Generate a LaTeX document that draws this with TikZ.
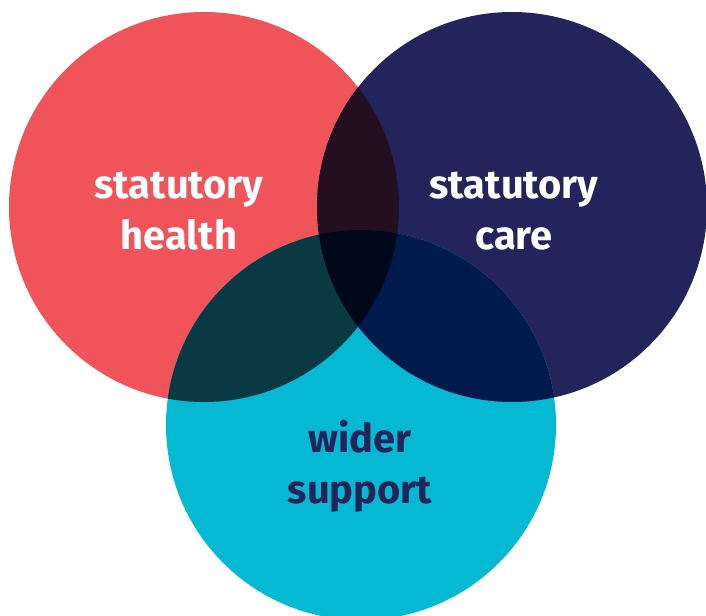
\documentclass[tikz,border=0pt]{standalone}
\usepackage{fontspec}
\setmainfont{Fira Sans}
\definecolor{healthred}{HTML}{F05359}
\definecolor{carenavy}{HTML}{23245C}
\definecolor{supportcyan}{HTML}{06B9D3}
\definecolor{healthcare}{HTML}{230F20}
\definecolor{healthsupport}{HTML}{093A44}
\definecolor{caresupport}{HTML}{001A4E}
\definecolor{allthree}{HTML}{000819}
\tikzset{
  venn/.style={circle, minimum size=390*0.03cm, inner sep=0pt},
  vennlabel/.style={align=center, font=\bfseries\fontsize{34}{43}\selectfont, anchor=base}
}
\begin{document}
\begin{tikzpicture}[x=0.03cm, y=-0.03cm]
    \useasboundingbox (0, 0) rectangle (706, 615);
    \def\rad{195}

    % circles
    \node[venn, fill=healthred] (H) at (204, 207) {};
    \node[venn, fill=carenavy] (C) at (512, 207) {};
    \node[venn, fill=supportcyan] (S) at (361, 425) {};

    % overlaps
    \begin{scope}
      \clip (H.center) circle (\rad);
      \fill[healthcare] (C.center) circle (\rad);
      \fill[healthsupport] (S.center) circle (\rad);
    \end{scope}
    \begin{scope}
      \clip (C.center) circle (\rad);
      \fill[caresupport] (S.center) circle (\rad);
    \end{scope}
    \begin{scope}
      \clip (H.center) circle (\rad);
      \clip (C.center) circle (\rad);
      \fill[allthree] (S.center) circle (\rad);
    \end{scope}

    % labels
    \node[vennlabel, text=white] (Htext) at (179, 249) {statutory\\health};
    \node[vennlabel, text=white] (Ctext) at (514, 249) {statutory\\care};
    \node[vennlabel, text=carenavy] (Stext) at (360, 503) {wider\\support};
  \end{tikzpicture}
\end{document}
